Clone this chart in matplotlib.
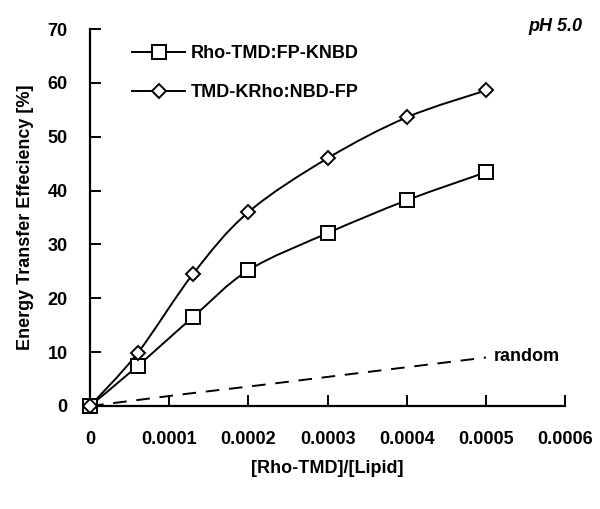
import numpy as np
import matplotlib.pyplot as plt
from matplotlib.path import Path
from matplotlib.patches import PathPatch

plt.rcParams["font.family"] = ["Liberation Sans", "DejaVu Sans"]
plt.rcParams["font.weight"] = "bold"
plt.rcParams["axes.labelweight"] = "bold"

ratio = [0, 0.00006, 0.00013, 0.0002, 0.0003, 0.0004, 0.0005]
rho_tmd = [0, 7.4, 16.5, 25.2, 32.1, 38.2, 43.4]
tmd_krho = [0, 9.8, 24.5, 36.0, 46.0, 53.6, 58.6]
random_fret = [0, 1.1, 2.4, 3.6, 5.4, 7.2, 9.0]

x_ticks = [0, 0.0001, 0.0002, 0.0003, 0.0004, 0.0005, 0.0006]
x_tick_labels = ["0", "0.0001", "0.0002", "0.0003", "0.0004", "0.0005", "0.0006"]
y_ticks = [0, 10, 20, 30, 40, 50, 60, 70]


def smooth_path(xs, ys):
    # Catmull-Rom style cubic Bezier through the points (like Excel smoothing)
    pts = np.column_stack([xs, ys]).astype(float)
    verts = [pts[0]]
    codes = [Path.MOVETO]
    n = len(pts)
    for i in range(n - 1):
        p0 = pts[i - 1] if i > 0 else pts[i]
        p1 = pts[i]
        p2 = pts[i + 1]
        p3 = pts[i + 2] if i + 2 < n else pts[i + 1]
        c1 = p1 + (p2 - p0) / 6.0
        c2 = p2 - (p3 - p1) / 6.0
        verts += [c1, c2, p2]
        codes += [Path.CURVE4] * 3
    return Path(verts, codes)


fig = plt.figure(figsize=(6, 5.09), dpi=100)
ax = fig.add_axes([0.15, 0.2024, 0.792, 0.7406])

for ys, ls in [(rho_tmd, "-"), (tmd_krho, "-"), (random_fret, (0, (7, 5)))]:
    ax.add_patch(PathPatch(smooth_path(ratio, ys), fill=False, lw=1.4,
                           ls=ls, edgecolor="black", clip_on=False))

ax.plot(ratio, rho_tmd, ls="none", marker="s", ms=10, mfc="white",
        mec="black", mew=1.4, clip_on=False, zorder=3)
ax.plot(ratio, tmd_krho, ls="none", marker="D", ms=7.5, mfc="white",
        mec="black", mew=1.4, clip_on=False, zorder=3)

# legend handles
ax.plot([], [], color="black", lw=1.4, marker="s", ms=10, mfc="white",
        mew=1.4, label="Rho-TMD:FP-KNBD")
ax.plot([], [], color="black", lw=1.4, marker="D", ms=7.5, mfc="white",
        mew=1.4, label="TMD-KRho:NBD-FP")
leg = ax.legend(loc="upper left", bbox_to_anchor=(0.055, 1.0), frameon=False,
                fontsize=13, handlelength=2.9, labelspacing=1.2,
                handletextpad=0.35)

ax.text(0.00051, 9.2, "random", fontsize=13, va="center", ha="left")
ax.text(1.036, 1.03, "pH 5.0", transform=ax.transAxes, fontsize=13,
        style="italic", ha="right", va="top")

ax.set_xlim(0, 0.0006)
ax.set_ylim(0, 70)
ax.set_xticks(x_ticks)
ax.set_xticklabels(x_tick_labels)
ax.set_yticks(y_ticks)
ax.tick_params(axis="both", direction="in", length=8, width=1.4,
               labelsize=13)
ax.tick_params(axis="x", pad=18)
ax.tick_params(axis="y", pad=16)
for side in ["top", "right"]:
    ax.spines[side].set_visible(False)
for side in ["left", "bottom"]:
    ax.spines[side].set_linewidth(1.6)

ax.set_xlabel("[Rho-TMD]/[Lipid]", fontsize=13, labelpad=9)
ax.set_ylabel("Energy Transfer Effeciency [%]", fontsize=13, labelpad=10)

plt.savefig("out.png")
